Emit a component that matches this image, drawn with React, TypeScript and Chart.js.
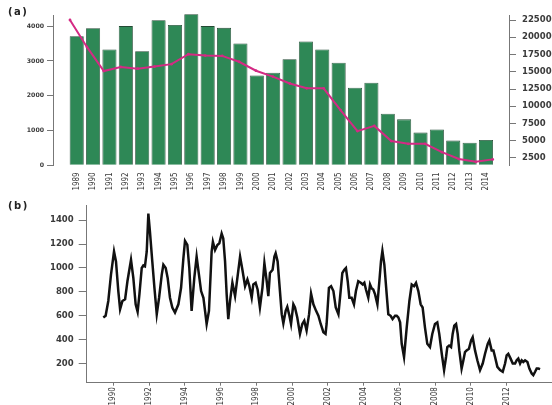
import React, { useEffect, useRef } from "react";
import { Chart, registerables } from "chart.js";

Chart.register(...registerables);

// ---------- Panel (a) data ----------
const yearsA = [1989, 1990, 1991, 1992, 1993, 1994, 1995, 1996, 1997, 1998, 1999, 2000, 2001,
  2002, 2003, 2004, 2005, 2006, 2007, 2008, 2009, 2010, 2011, 2012, 2013, 2014];
const barValues = [3710, 3940, 3330, 4000, 3280, 4170, 4030, 4340, 4000, 3950, 3500, 2580, 2660,
  3050, 3560, 3330, 2950, 2230, 2370, 1480, 1320, 940, 1030, 710, 650, 730];
const lineValues = [22500, 18600, 15100, 15700, 15450, 15750, 16100, 17550, 17350, 17300, 16450, 15150, 14300,
  13300, 12600, 12600, 9450, 6400, 7150, 4950, 4550, 4550, 3350, 2350, 1950, 2300];
const leftTicksA = [0, 1000, 2000, 3000, 4000];
const rightTicksA = [2500, 5000, 7500, 10000, 12500, 15000, 17500, 20000, 22500];

// ---------- Panel (b) data ----------
const bTimes = [
  1989.44, 1989.57, 1989.72, 1989.87, 1990.04, 1990.15, 1990.28, 1990.38, 1990.51, 1990.66, 1990.79, 1990.99,
  1991.12, 1991.25, 1991.36, 1991.46, 1991.59, 1991.68, 1991.77, 1991.87, 1991.96, 1992.05, 1992.18, 1992.30,
  1992.43, 1992.56, 1992.71, 1992.80, 1992.93, 1993.04, 1993.17, 1993.30, 1993.45, 1993.64, 1993.79, 1993.92,
  1994.01, 1994.14, 1994.25, 1994.38, 1994.53, 1994.66, 1994.79, 1994.91, 1995.04, 1995.13, 1995.22, 1995.35,
  1995.50, 1995.57, 1995.69, 1995.82, 1995.93, 1996.06, 1996.15, 1996.25, 1996.34, 1996.43, 1996.53, 1996.66,
  1996.81, 1996.94, 1997.09, 1997.22, 1997.37, 1997.50, 1997.61, 1997.74, 1997.83, 1997.96, 1998.07, 1998.20,
  1998.34, 1998.45, 1998.58, 1998.67, 1998.76, 1998.91, 1999.01, 1999.08, 1999.19, 1999.32, 1999.42, 1999.51,
  1999.64, 1999.73, 1999.85, 1999.94, 2000.07, 2000.16, 2000.29, 2000.44, 2000.57, 2000.68, 2000.81, 2000.95,
  2001.06, 2001.19, 2001.34, 2001.47, 2001.60, 2001.75, 2001.87, 2001.93, 2002.06, 2002.18, 2002.31, 2002.44,
  2002.59, 2002.68, 2002.81, 2002.92, 2003.01, 2003.11, 2003.20, 2003.33, 2003.46, 2003.57, 2003.70, 2003.84,
  2003.95, 2004.04, 2004.13, 2004.26, 2004.36, 2004.45, 2004.54, 2004.64, 2004.77, 2004.88, 2004.97, 2005.05,
  2005.16, 2005.29, 2005.38, 2005.51, 2005.62, 2005.76, 2005.85, 2005.94, 2006.04, 2006.13, 2006.26, 2006.41,
  2006.56, 2006.69, 2006.82, 2006.93, 2007.06, 2007.19, 2007.30, 2007.43, 2007.56, 2007.71, 2007.84, 2007.99,
  2008.12, 2008.23, 2008.37, 2008.50, 2008.61, 2008.68, 2008.78, 2008.89, 2008.98, 2009.07, 2009.17, 2009.26,
  2009.35, 2009.48, 2009.58, 2009.67, 2009.76, 2009.89, 2010.01, 2010.10, 2010.23, 2010.36, 2010.51, 2010.66,
  2010.79, 2010.94, 2011.03, 2011.16, 2011.26, 2011.35, 2011.48, 2011.63, 2011.78, 2011.91, 2012.00, 2012.09,
  2012.22, 2012.34, 2012.47, 2012.56, 2012.65, 2012.75, 2012.84, 2012.93, 2013.03, 2013.16, 2013.27, 2013.40,
  2013.49, 2013.59, 2013.68, 2013.77, 2013.87,
];
const bValues = [
  586, 600, 724, 945, 1138, 1055, 807, 655, 724, 738, 889, 1069,
  917, 696, 633, 779, 1000, 1022, 1014, 1138, 1455, 1303, 1055, 834,
  613, 751, 945, 1027, 1000, 917, 751, 669, 627, 696, 834, 1082,
  1226, 1193, 1000, 641, 917, 1096, 945, 807, 751, 641, 531, 641,
  1138, 1220, 1151, 1193, 1207, 1289, 1248, 1055, 779, 572, 724, 876,
  765, 917, 1096, 986, 848, 903, 848, 751, 862, 876, 820, 669,
  834, 1041, 889, 765, 958, 986, 1096, 1124, 1055, 807, 613, 536,
  641, 674, 600, 531, 696, 669, 586, 448, 531, 558, 476, 613,
  785, 696, 641, 600, 531, 462, 448, 531, 834, 848, 807, 669,
  613, 751, 958, 986, 1000, 889, 751, 751, 696, 807, 889, 876,
  862, 876, 820, 751, 862, 829, 820, 779, 696, 889, 1055, 1143,
  1027, 779, 613, 600, 572, 600, 600, 586, 545, 365, 255, 503,
  724, 862, 848, 876, 807, 696, 669, 503, 365, 338, 448, 531,
  545, 448, 282, 145, 255, 338, 351, 338, 448, 517, 531, 448,
  310, 158, 227, 296, 310, 324, 393, 420, 310, 227, 145, 200,
  282, 365, 393, 310, 310, 255, 172, 145, 131, 200, 269, 282,
  241, 200, 200, 227, 241, 200, 227, 213, 227, 213, 158, 117,
  103, 131, 158, 158, 153,
];
const bYearTicks = [1990, 1992, 1994, 1996, 1998, 2000, 2002, 2004, 2006, 2008, 2010, 2012];
const bValueTicks = [200, 400, 600, 800, 1000, 1200, 1400];

const AXIS = "#777";
const TXT = "#3a3a3a";
const NARROW = "'DejaVu Sans Condensed', sans-serif";
const WIDE = "'DejaVu Sans', sans-serif";

function PanelA() {
  const ref = useRef<HTMLCanvasElement>(null);
  useEffect(() => {
    const chart = new Chart(ref.current!, {
      type: "bar",
      data: {
        datasets: [
          {
            type: "line",
            data: yearsA.map((x, i) => ({ x, y: lineValues[i] })),
            xAxisID: "x2",
            yAxisID: "y2",
            borderColor: "#d42a84",
            backgroundColor: "#d42a84",
            borderWidth: 2,
            pointRadius: 1.4,
            pointBorderWidth: 0,
            tension: 0,
            order: 0,
          } as any,
          {
            type: "bar",
            data: yearsA.map((x, i) => ({ x, y: barValues[i] })),
            xAxisID: "x",
            yAxisID: "y",
            backgroundColor: "#2e8856",
            borderColor: "#234a34",
            borderWidth: 0.8,
            grouped: false,
            barPercentage: 0.86,
            categoryPercentage: 1,
            clip: false,
            order: 1,
          } as any,
        ],
      },
      options: {
        responsive: false,
        animation: false,
        layout: { padding: { top: 15, left: 0, right: 0, bottom: 0 } },
        plugins: { legend: { display: false }, tooltip: { enabled: false } },
        scales: {
          x: {
            type: "linear",
            position: "bottom",
            offset: false,
            min: 1987.552,
            max: 2015.405,
            afterBuildTicks: (s: any) => { s.ticks = yearsA.map((v) => ({ value: v })); },
            afterFit: (s: any) => { s.height = 32.7; },
            grid: { display: false, drawTicks: false, offset: false },
            border: { display: false },
            ticks: {
              autoSkip: false, minRotation: 90, maxRotation: 90, padding: 7,
              color: TXT, font: { family: NARROW, size: 8 },
              callback: (v: any) => String(v),
            },
          },
          x2: {
            type: "linear",
            position: "bottom",
            offset: false,
            min: 1987.995,
            max: 2014.964,
            display: true,
            afterBuildTicks: (s: any) => { s.ticks = yearsA.map((v) => ({ value: v })); },
            afterFit: (s: any) => { s.height = 0; },
            grid: { display: false, drawTicks: false, offset: false },
            border: { display: false },
            ticks: {
              display: false, autoSkip: false, minRotation: 90, maxRotation: 90,
              font: { family: NARROW, size: 8 }, callback: (v: any) => String(v),
            },
          },
          y: {
            position: "left",
            min: 0,
            max: 4319,
            afterBuildTicks: (s: any) => { s.ticks = leftTicksA.map((v) => ({ value: v })); },
            afterFit: (s: any) => { s.width = 53; },
            grid: { drawOnChartArea: false, drawTicks: true, tickLength: 6, color: AXIS },
            border: { display: true, color: AXIS, width: 1 },
            ticks: { padding: 3, color: TXT, font: { family: WIDE, size: 6.2, weight: "bold" }, callback: (v: any) => String(v) },
          },
          y2: {
            position: "right",
            min: 1442,
            max: 23225,
            afterBuildTicks: (s: any) => { s.ticks = rightTicksA.map((v) => ({ value: v })); },
            afterFit: (s: any) => { s.width = 61; },
            grid: { drawOnChartArea: false, drawTicks: true, tickLength: 7, color: AXIS },
            border: { display: true, color: AXIS, width: 1 },
            ticks: { padding: 6, color: TXT, font: { family: WIDE, size: 8.5, weight: "bold" }, callback: (v: any) => String(v) },
          },
        },
      } as any,
    });
    return () => chart.destroy();
  }, []);
  return <canvas ref={ref} width={570} height={198} style={{ position: "absolute", left: 0, top: 0 }} />;
}

function PanelB() {
  const ref = useRef<HTMLCanvasElement>(null);
  useEffect(() => {
    const chart = new Chart(ref.current!, {
      type: "line",
      data: {
        datasets: [
          {
            data: bTimes.map((x, i) => ({ x, y: bValues[i] })),
            borderColor: "#111",
            borderWidth: 2.5,
            pointRadius: 0,
            tension: 0,
            fill: false,
          },
        ],
      },
      options: {
        responsive: false,
        animation: false,
        layout: { padding: { top: 8, left: 0, right: 0, bottom: 0 } },
        plugins: { legend: { display: false }, tooltip: { enabled: false } },
        scales: {
          x: {
            type: "linear",
            min: 1988.512,
            max: 2015.542,
            afterBuildTicks: (s: any) => { s.ticks = bYearTicks.map((v) => ({ value: v })); },
            afterFit: (s: any) => { s.height = 22.3; },
            grid: { drawOnChartArea: false, drawTicks: true, tickLength: 3, color: AXIS },
            border: { display: true, color: AXIS, width: 1 },
            ticks: {
              autoSkip: false, minRotation: 90, maxRotation: 90, padding: 1.5,
              color: TXT, font: { family: NARROW, size: 8 },
              callback: (v: any) => String(v),
            },
          },
          y: {
            min: 39.5,
            max: 1526.6,
            afterBuildTicks: (s: any) => { s.ticks = bValueTicks.map((v) => ({ value: v })); },
            afterFit: (s: any) => { s.width = 86.7; },
            grid: { drawOnChartArea: false, drawTicks: true, tickLength: 8, color: AXIS },
            border: { display: true, color: AXIS, width: 1 },
            ticks: { padding: 5, color: TXT, font: { family: WIDE, size: 8.5, weight: "bold" }, callback: (v: any) => String(v) },
          },
        },
      } as any,
    });
    return () => chart.destroy();
  }, []);
  return <canvas ref={ref} width={570} height={210} style={{ position: "absolute", left: 0, top: 195 }} />;
}

const panelLabel: React.CSSProperties = {
  position: "absolute",
  left: 8,
  fontFamily: "'DejaVu Sans', sans-serif",
  fontWeight: "bold",
  fontSize: 10,
  lineHeight: "10px",
  letterSpacing: "1.5px",
  color: "#222",
};

export default function App() {
  return (
    <div style={{ position: "fixed", left: 0, top: 0, width: 552, height: 405, overflow: "hidden", background: "#fff" }}>
      <PanelA />
      <PanelB />
      <div style={{ ...panelLabel, top: 7 }}>(a)</div>
      <div style={{ ...panelLabel, top: 201 }}>(b)</div>
    </div>
  );
}
